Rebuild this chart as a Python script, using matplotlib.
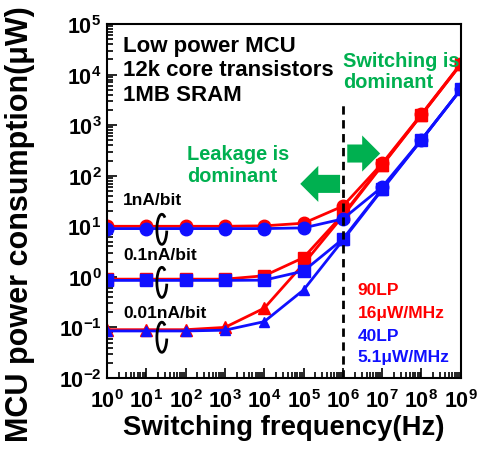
import matplotlib
matplotlib.use("Agg")
import matplotlib.pyplot as plt
from matplotlib.patches import Arc
from matplotlib.ticker import LogLocator, NullFormatter

plt.rcParams['font.family'] = ['Liberation Sans', 'DejaVu Sans']
plt.rcParams['font.weight'] = 'bold'
plt.rcParams['mathtext.fontset'] = 'custom'
plt.rcParams['mathtext.rm'] = 'Liberation Sans:bold'
plt.rcParams['mathtext.it'] = 'Liberation Sans:bold'
plt.rcParams['mathtext.bf'] = 'Liberation Sans:bold'
plt.rcParams['mathtext.default'] = 'regular'

freq = [1e0, 1e1, 1e2, 1e3, 1e4, 1e5, 1e6, 1e7, 1e8, 1e9]

# 90LP (red)
red_1nA = [10, 10, 10, 10, 10.2, 11.5, 25, 175, 1650, 16500]
red_01nA = [0.9, 0.9, 0.9, 0.9, 1.05, 2.4, 17, 165, 1600, 16000]
red_001nA = [0.09, 0.09, 0.09, 0.1, 0.24, 1.8, 16, 160, 1600, 16000]
# 40LP (blue)
blue_1nA = [9, 9, 9, 9, 9, 9.3, 14, 60, 520, 5100]
blue_01nA = [0.85, 0.85, 0.85, 0.85, 0.86, 1.3, 5.6, 55, 515, 5100]
blue_001nA = [0.085, 0.085, 0.085, 0.088, 0.13, 0.55, 5.3, 53, 510, 5100]

RED = '#FF0000'
BLUE = '#1010FF'
GREEN = '#00B050'

fig = plt.figure(figsize=(4.82, 4.56), dpi=100)
ax = fig.add_axes([0.222, 0.169, 0.734, 0.776])
ax.set_xscale('log')
ax.set_yscale('log')
ax.set_xlim(1e0, 1e9)
ax.set_ylim(1e-2, 1e5)

lw = 2
ax.plot(freq, red_1nA, color=RED, marker='o', ms=9, lw=lw)
ax.plot(freq, red_01nA, color=RED, marker='s', ms=8.5, lw=lw)
ax.plot(freq, red_001nA, color=RED, marker='^', ms=9, lw=lw)
ax.plot(freq, blue_1nA, color=BLUE, marker='o', ms=9, lw=lw)
ax.plot(freq, blue_01nA, color=BLUE, marker='s', ms=8.5, lw=lw)
ax.plot(freq, blue_001nA, color=BLUE, marker='^', ms=7.5, lw=lw)

# dashed boundary line
boundary_x = 1e6
ax.vlines(boundary_x, 1e-2, 2500, colors='black', linestyles=(0, (3, 2)), lw=2, zorder=5)

# arrows
arrow_style = 'simple,head_width=1.3,head_length=0.65,tail_width=0.65'
ax.annotate('', xy=(1.05e7, 275), xytext=(1.1e6, 275),
            arrowprops=dict(arrowstyle=arrow_style, color=GREEN, mutation_scale=20, lw=0))
ax.annotate('', xy=(7e4, 69), xytext=(1.0e6, 69),
            arrowprops=dict(arrowstyle=arrow_style, color=GREEN, mutation_scale=20, lw=0))

# texts
ax.text(0.045, 0.97, 'Low power MCU\n12k core transistors\n1MB SRAM', transform=ax.transAxes,
        fontsize=16, fontweight='bold', va='top', ha='left', linespacing=1.22)
ax.text(0.667, 0.925, 'Switching is\ndominant', transform=ax.transAxes, color=GREEN,
        fontsize=14.4, fontweight='bold', va='top', ha='left', linespacing=1.15)
ax.text(0.226, 0.66, 'Leakage is\ndominant', transform=ax.transAxes, color=GREEN,
        fontsize=14.4, fontweight='bold', va='top', ha='left', linespacing=1.15)

for yf, lab in [(0.505, '1nA/bit'), (0.348, '0.1nA/bit'), (0.185, '0.01nA/bit')]:
    ax.text(0.045, yf, lab, transform=ax.transAxes, fontsize=12.5, fontweight='bold',
            va='center', ha='left')

for yf in [0.42, 0.27, 0.115]:
    ax.add_patch(Arc((0.155, yf), 0.028, 0.085, theta1=75, theta2=345, transform=ax.transAxes,
                     color='black', lw=2, zorder=6))

ax.text(0.708, 0.25, '90LP', transform=ax.transAxes, color=RED, fontsize=12.5,
        fontweight='bold', va='center', ha='left')
ax.text(0.708, 0.185, '16μW/MHz', transform=ax.transAxes, color=RED, fontsize=12.5,
        fontweight='bold', va='center', ha='left')
ax.text(0.708, 0.12, '40LP', transform=ax.transAxes, color=BLUE, fontsize=12.5,
        fontweight='bold', va='center', ha='left')
ax.text(0.708, 0.06, '5.1μW/MHz', transform=ax.transAxes, color=BLUE, fontsize=12.5,
        fontweight='bold', va='center', ha='left')

# ticks
ax.xaxis.set_major_locator(LogLocator(base=10, numticks=20))
ax.yaxis.set_major_locator(LogLocator(base=10, numticks=20))
ax.xaxis.set_minor_locator(LogLocator(base=10, subs=range(2, 10), numticks=20))
ax.yaxis.set_minor_locator(LogLocator(base=10, subs=range(2, 10), numticks=20))
ax.xaxis.set_minor_formatter(NullFormatter())
ax.yaxis.set_minor_formatter(NullFormatter())
ax.tick_params(which='both', direction='in', top=False, right=False, width=1.2)
ax.tick_params(which='major', length=7, labelsize=15.5)
ax.tick_params(axis='x', which='major', pad=8)
ax.tick_params(axis='y', which='major', pad=4)
ax.tick_params(which='minor', length=4)
for lab in ax.get_xticklabels() + ax.get_yticklabels():
    lab.set_fontweight('bold')
for sp in ax.spines.values():
    sp.set_linewidth(1.5)

ax.set_xlabel('Switching frequency(Hz)', fontsize=19.8, fontweight='bold', labelpad=1.5)
fig.text(20 / 482, 1 - 224 / 456, 'MCU power consumption(μW)', rotation=90, fontsize=22,
         fontweight='bold', ha='center', va='center')

fig.savefig('out.png', dpi=100)
